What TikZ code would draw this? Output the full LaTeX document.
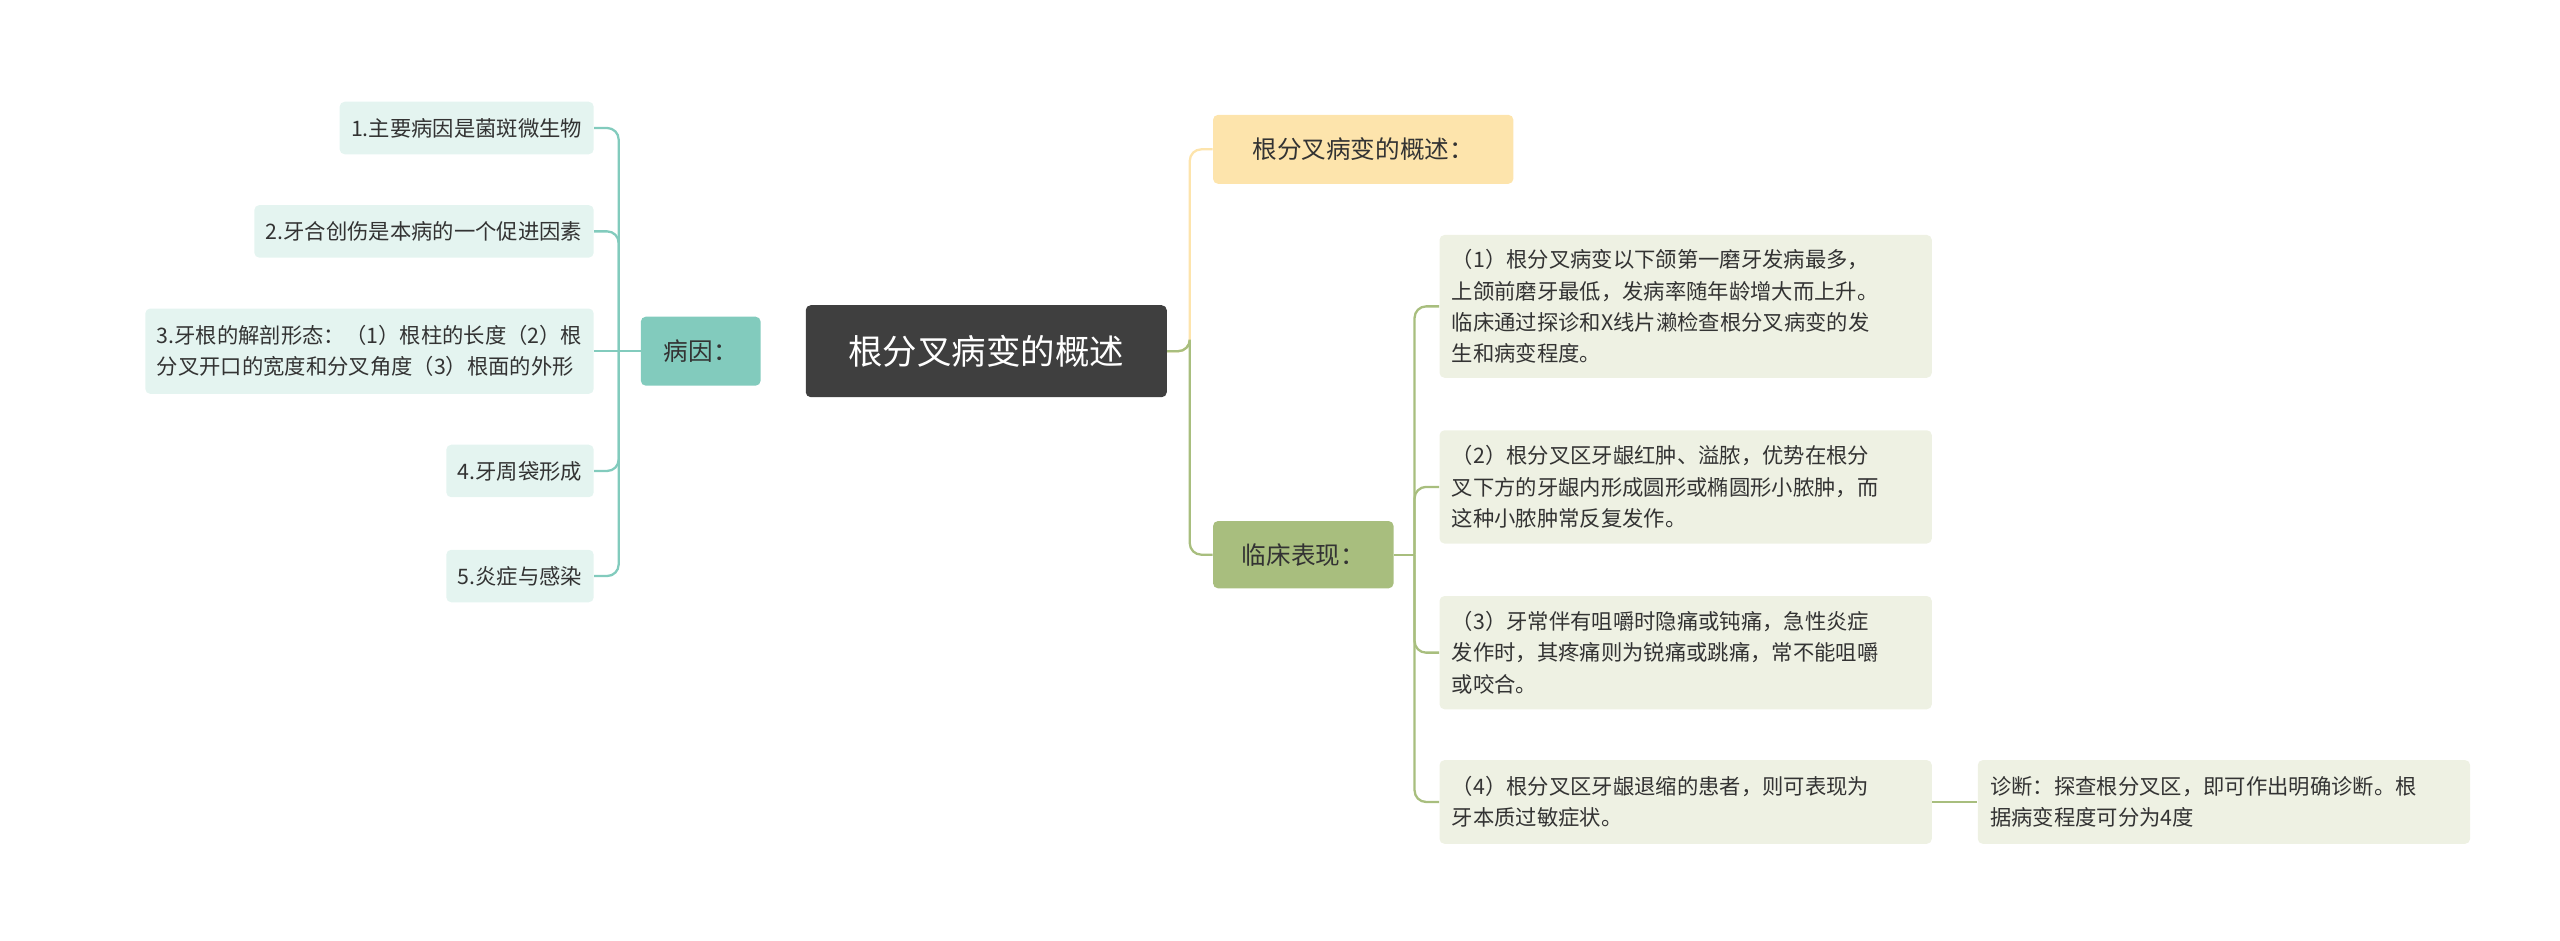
\documentclass[tikz,border=0pt]{standalone}
\usepackage{fontspec}
\setmainfont{Noto Sans CJK SC}
\definecolor{root}{HTML}{3F3F3F}
\definecolor{teal}{HTML}{82CBBD}
\definecolor{tleaf}{HTML}{E4F4F0}
\definecolor{orng}{HTML}{FDE4AC}
\definecolor{grn}{HTML}{A8BE7E}
\definecolor{gleaf}{HTML}{EEF1E3}
\definecolor{txt}{HTML}{333333}
\begin{document}
\begin{tikzpicture}[x=1pt,y=-1pt,
 box/.style={rounded corners=3pt,inner sep=0pt,font=\fontsize{13}{19}\selectfont,text=txt,align=left},
 lleaf/.style={box,fill=tleaf,minimum height=32pt,inner xsep=7pt},
 rleaf/.style={box,fill=gleaf,text width=285pt,inner xsep=7.5pt,anchor=north west,inner ysep=0pt},
 tl/.style={teal,line width=1.4pt,rounded corners=7pt},
 gl/.style={grn,line width=1.4pt,rounded corners=7pt}]
\useasboundingbox (0,0) rectangle (1560,573);
\node[box,fill=root,text=white,minimum width=220pt,minimum height=56pt,font=\fontsize{21}{26}\selectfont] (root) at (601,214) {根分叉病变的概述};
\node[box,fill=teal,minimum width=73pt,minimum height=42pt,font=\fontsize{15}{20}\selectfont] (by) at (427,214) {病因：};
\node[box,fill=orng,minimum width=183pt,minimum height=42pt,font=\fontsize{15}{20}\selectfont,anchor=west] (gs) at (739,91) {根分叉病变的概述：};
\node[box,fill=grn,minimum width=110pt,minimum height=41pt,font=\fontsize{15}{20}\selectfont,anchor=west] (lc) at (739,338) {临床表现：};
% left leaves
\node[lleaf,anchor=east] (l1) at (362,78) {1.主要病因是菌斑微生物};
\node[lleaf,anchor=east] (l2) at (362,141) {2.牙合创伤是本病的一个促进因素};
\node[lleaf,anchor=east,minimum height=52pt] (l3) at (362,214) {3.牙根的解剖形态：（1）根柱的长度（2）根\\分叉开口的宽度和分叉角度（3）根面的外形};
\node[lleaf,anchor=east] (l4) at (362,287) {4.牙周袋形成};
\node[lleaf,anchor=east] (l5) at (362,351) {5.炎症与感染};
\coordinate (lj) at (377,214);
\draw[tl] (by.west) -- (lj);
\foreach \n in {l1,l2,l4,l5} \draw[tl] (lj) |- (\n.east);
\draw[tl] (lj) -- (l3.east);
% right branch lines
\coordinate (rj) at (725,214);
\draw[orng,line width=1.4pt,rounded corners=7pt] (root.east) -| (rj) |- (gs.west);
\draw[gl] (root.east) -| (rj) |- (lc.west);
% right leaves
\node[rleaf,minimum height=87pt] (r1) at (877,143) {\hspace*{0pt}（1）根分叉病变以下颌第一磨牙发病最多，\\上颌前磨牙最低，发病率随年龄增大而上升。\\临床通过探诊和X线片濑检查根分叉病变的发\\生和病变程度。};
\node[rleaf,minimum height=69pt] (r2) at (877,262) {（2）根分叉区牙龈红肿、溢脓，优势在根分\\叉下方的牙龈内形成圆形或椭圆形小脓肿，而\\这种小脓肿常反复发作。};
\node[rleaf,minimum height=69pt] (r3) at (877,363) {（3）牙常伴有咀嚼时隐痛或钝痛，急性炎症\\发作时，其疼痛则为锐痛或跳痛，常不能咀嚼\\或咬合。};
\node[rleaf,minimum height=51pt] (r4) at (877,463) {（4）根分叉区牙龈退缩的患者，则可表现为\\牙本质过敏症状。};
\node[rleaf,minimum height=51pt] (d) at (1205,463) {诊断：探查根分叉区，即可作出明确诊断。根\\据病变程度可分为4度};
\coordinate (gj) at (862,338);
\draw[gl] (lc.east) -- (gj);
\foreach \n in {r1,r2,r3,r4} \draw[gl] (gj) |- (\n.west);
\draw[gl] (r4.east) -- (d.west);
\end{tikzpicture}
\end{document}
